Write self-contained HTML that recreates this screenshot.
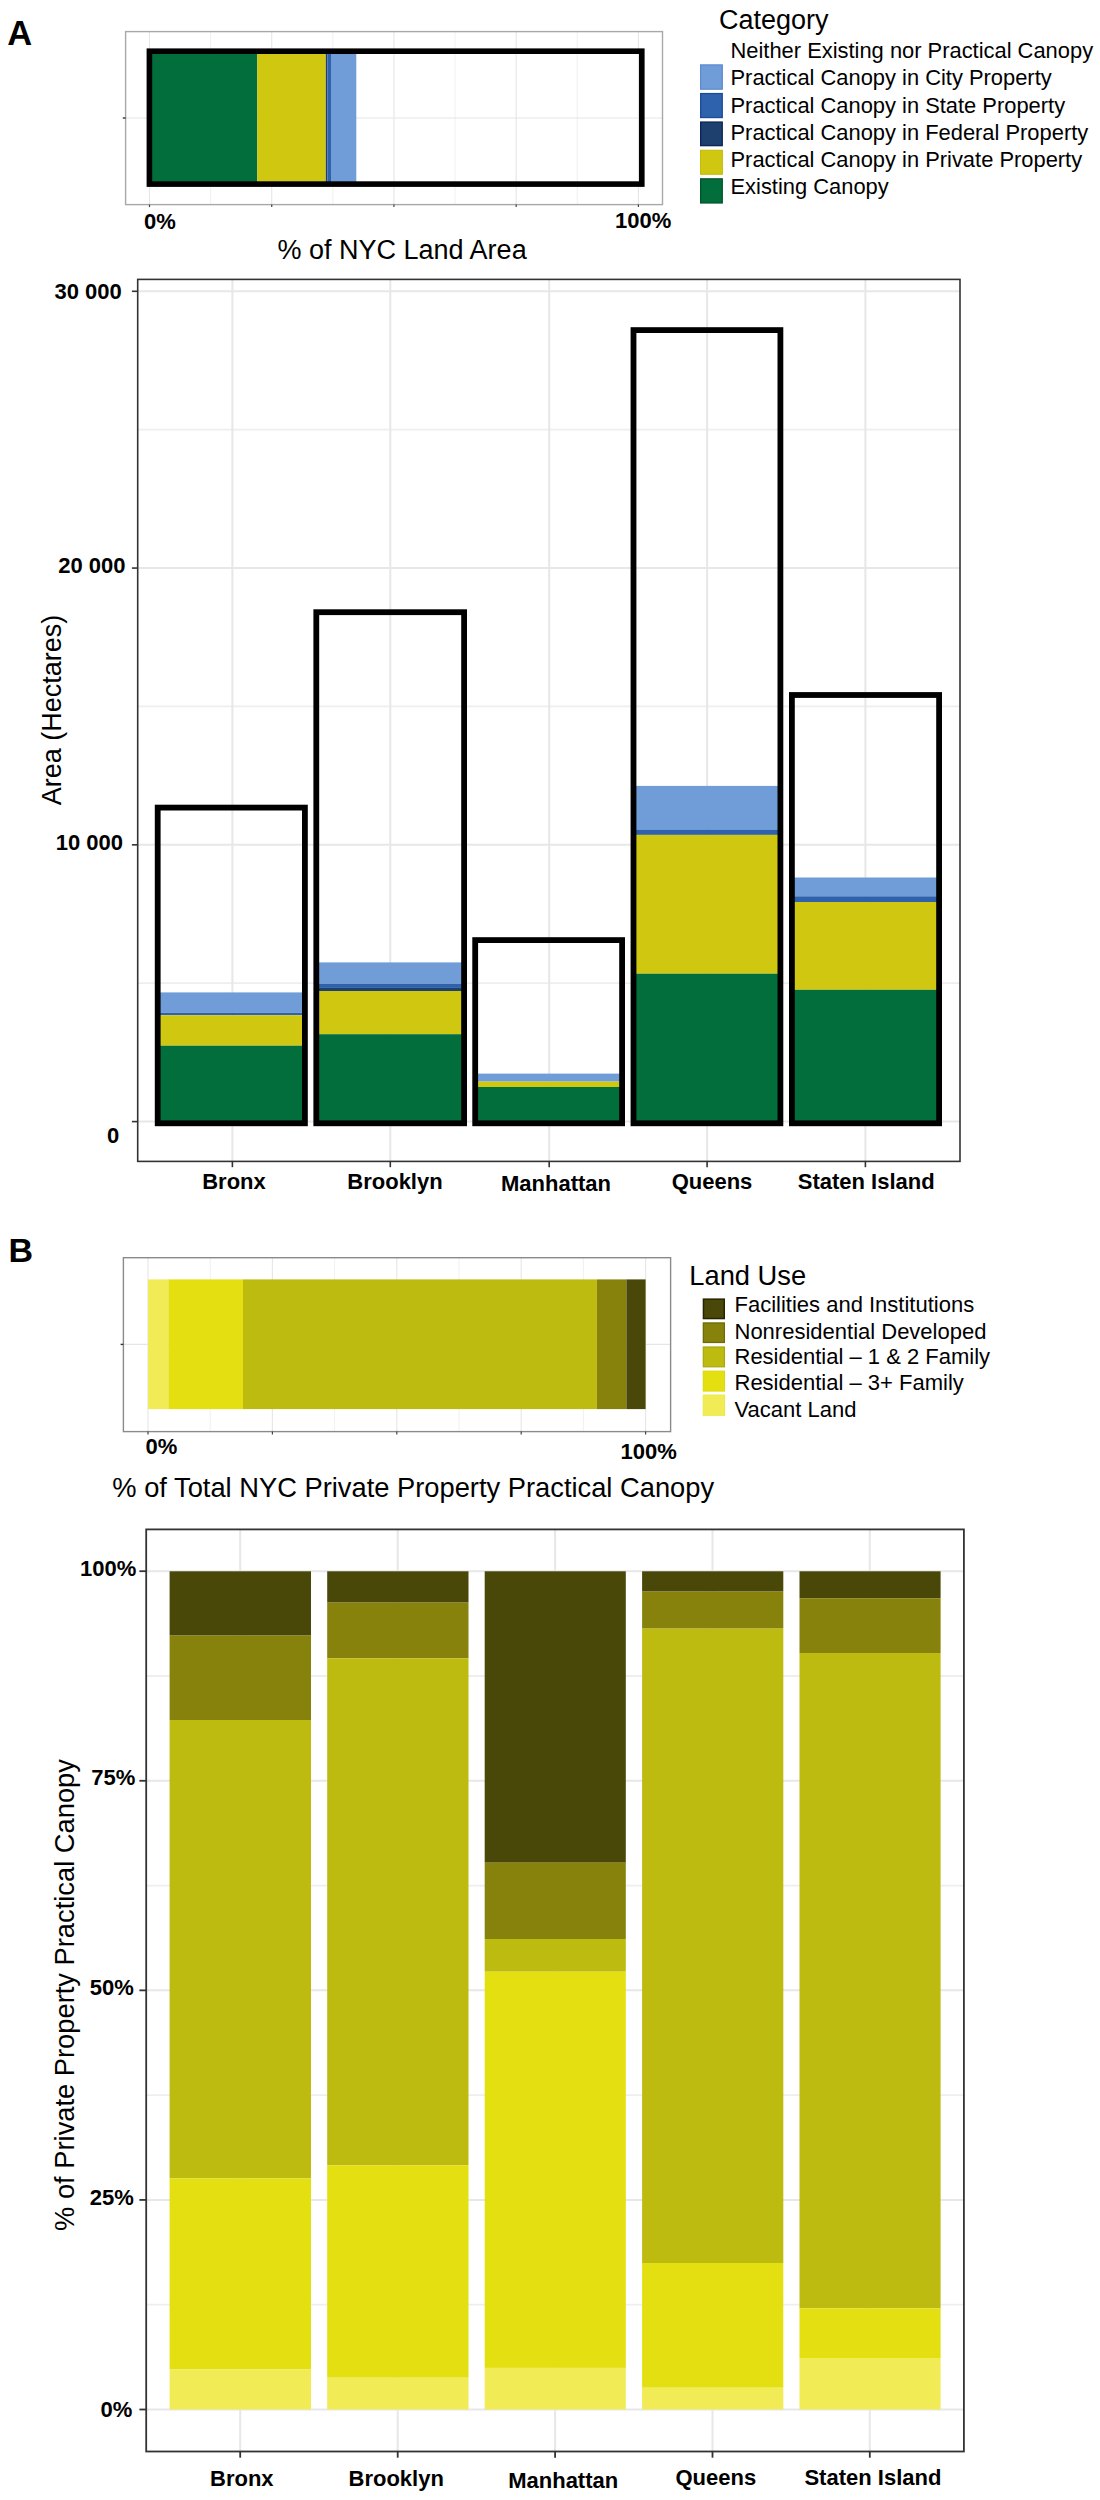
<!DOCTYPE html>
<html><head><meta charset="utf-8"><style>
html,body{margin:0;padding:0;background:#fff;}
body{width:1100px;height:2500px;overflow:hidden;}
svg{display:block;font-family:"Liberation Sans",sans-serif;}
</style></head><body>
<svg width="1100" height="2500" viewBox="0 0 1100 2500">
<rect x="0" y="0" width="1100" height="2500" fill="#fff"/>
<line x1="149.50" y1="31.60" x2="149.50" y2="204.60" stroke="#e6e6e6" stroke-width="1.1"/>
<line x1="271.73" y1="31.60" x2="271.73" y2="204.60" stroke="#e6e6e6" stroke-width="1.1"/>
<line x1="393.95" y1="31.60" x2="393.95" y2="204.60" stroke="#e6e6e6" stroke-width="1.1"/>
<line x1="516.17" y1="31.60" x2="516.17" y2="204.60" stroke="#e6e6e6" stroke-width="1.1"/>
<line x1="638.40" y1="31.60" x2="638.40" y2="204.60" stroke="#e6e6e6" stroke-width="1.1"/>
<line x1="210.61" y1="31.60" x2="210.61" y2="204.60" stroke="#e6e6e6" stroke-width="0.6"/>
<line x1="332.84" y1="31.60" x2="332.84" y2="204.60" stroke="#e6e6e6" stroke-width="0.6"/>
<line x1="455.06" y1="31.60" x2="455.06" y2="204.60" stroke="#e6e6e6" stroke-width="0.6"/>
<line x1="577.29" y1="31.60" x2="577.29" y2="204.60" stroke="#e6e6e6" stroke-width="0.6"/>
<line x1="125.60" y1="118.00" x2="662.50" y2="118.00" stroke="#e6e6e6" stroke-width="1.1"/>
<rect x="149.30" y="51.00" width="108.00" height="133.00" fill="#026e3c" />
<rect x="257.30" y="51.00" width="68.50" height="133.00" fill="#cfc710" />
<rect x="325.80" y="51.00" width="1.70" height="133.00" fill="#1e406f" />
<rect x="327.50" y="51.00" width="3.50" height="133.00" fill="#2e62ad" />
<rect x="331.00" y="51.00" width="25.30" height="133.00" fill="#709dd7" />
<rect x="149.4" y="51.2" width="492.4" height="132.9" fill="none" stroke="#000" stroke-width="5.6"/>
<rect x="125.6" y="31.6" width="536.9" height="173.0" fill="none" stroke="#a8a8a8" stroke-width="1.4"/>
<line x1="122.80" y1="118.00" x2="125.60" y2="118.00" stroke="#333" stroke-width="1.4"/>
<line x1="149.50" y1="204.60" x2="149.50" y2="207.10" stroke="#444" stroke-width="1.2"/>
<line x1="271.73" y1="204.60" x2="271.73" y2="207.10" stroke="#444" stroke-width="1.2"/>
<line x1="393.95" y1="204.60" x2="393.95" y2="207.10" stroke="#444" stroke-width="1.2"/>
<line x1="516.17" y1="204.60" x2="516.17" y2="207.10" stroke="#444" stroke-width="1.2"/>
<line x1="638.40" y1="204.60" x2="638.40" y2="207.10" stroke="#444" stroke-width="1.2"/>
<line x1="137.70" y1="1121.60" x2="960.00" y2="1121.60" stroke="#e7e7e7" stroke-width="2.0"/>
<line x1="137.70" y1="844.83" x2="960.00" y2="844.83" stroke="#e7e7e7" stroke-width="2.0"/>
<line x1="137.70" y1="568.07" x2="960.00" y2="568.07" stroke="#e7e7e7" stroke-width="2.0"/>
<line x1="137.70" y1="291.30" x2="960.00" y2="291.30" stroke="#e7e7e7" stroke-width="2.0"/>
<line x1="137.70" y1="983.22" x2="960.00" y2="983.22" stroke="#eeeeee" stroke-width="1.8"/>
<line x1="137.70" y1="706.45" x2="960.00" y2="706.45" stroke="#eeeeee" stroke-width="1.8"/>
<line x1="137.70" y1="429.68" x2="960.00" y2="429.68" stroke="#eeeeee" stroke-width="1.8"/>
<line x1="232.40" y1="279.40" x2="232.40" y2="1161.40" stroke="#e7e7e7" stroke-width="2.0"/>
<line x1="390.30" y1="279.40" x2="390.30" y2="1161.40" stroke="#e7e7e7" stroke-width="2.0"/>
<line x1="549.20" y1="279.40" x2="549.20" y2="1161.40" stroke="#e7e7e7" stroke-width="2.0"/>
<line x1="707.10" y1="279.40" x2="707.10" y2="1161.40" stroke="#e7e7e7" stroke-width="2.0"/>
<line x1="865.40" y1="279.40" x2="865.40" y2="1161.40" stroke="#e7e7e7" stroke-width="2.0"/>
<rect x="157.70" y="992.40" width="147.20" height="20.40" fill="#709dd7" />
<rect x="157.70" y="1012.80" width="147.20" height="2.40" fill="#2e62ad" />
<rect x="157.70" y="1015.20" width="147.20" height="30.50" fill="#cfc710" />
<rect x="157.70" y="1045.70" width="147.20" height="77.60" fill="#026e3c" />
<rect x="157.70" y="807.60" width="147.20" height="315.70" fill="none" stroke="#000" stroke-width="5.8"/>
<rect x="316.30" y="962.40" width="147.80" height="21.30" fill="#709dd7" />
<rect x="316.30" y="983.70" width="147.80" height="4.20" fill="#2e62ad" />
<rect x="316.30" y="987.90" width="147.80" height="3.10" fill="#1e406f" />
<rect x="316.30" y="991.00" width="147.80" height="43.20" fill="#cfc710" />
<rect x="316.30" y="1034.20" width="147.80" height="89.10" fill="#026e3c" />
<rect x="316.30" y="612.20" width="147.80" height="511.10" fill="none" stroke="#000" stroke-width="5.8"/>
<rect x="475.20" y="1073.60" width="146.90" height="8.00" fill="#709dd7" />
<rect x="475.20" y="1081.60" width="146.90" height="5.40" fill="#cfc710" />
<rect x="475.20" y="1087.00" width="146.90" height="36.30" fill="#026e3c" />
<rect x="475.20" y="940.10" width="146.90" height="183.20" fill="none" stroke="#000" stroke-width="5.8"/>
<rect x="633.50" y="785.90" width="146.90" height="43.60" fill="#709dd7" />
<rect x="633.50" y="829.50" width="146.90" height="5.40" fill="#2e62ad" />
<rect x="633.50" y="834.90" width="146.90" height="138.80" fill="#cfc710" />
<rect x="633.50" y="973.70" width="146.90" height="149.60" fill="#026e3c" />
<rect x="633.50" y="330.10" width="146.90" height="793.20" fill="none" stroke="#000" stroke-width="5.8"/>
<rect x="791.90" y="877.50" width="147.20" height="18.80" fill="#709dd7" />
<rect x="791.90" y="896.30" width="147.20" height="5.70" fill="#2e62ad" />
<rect x="791.90" y="902.00" width="147.20" height="87.80" fill="#cfc710" />
<rect x="791.90" y="989.80" width="147.20" height="133.50" fill="#026e3c" />
<rect x="791.90" y="695.00" width="147.20" height="428.30" fill="none" stroke="#000" stroke-width="5.8"/>
<rect x="137.7" y="279.4" width="822.3" height="882.0000000000001" fill="none" stroke="#333" stroke-width="1.6"/>
<line x1="131.90" y1="1121.60" x2="137.70" y2="1121.60" stroke="#333" stroke-width="1.6"/>
<line x1="131.90" y1="844.83" x2="137.70" y2="844.83" stroke="#333" stroke-width="1.6"/>
<line x1="131.90" y1="568.07" x2="137.70" y2="568.07" stroke="#333" stroke-width="1.6"/>
<line x1="131.90" y1="291.30" x2="137.70" y2="291.30" stroke="#333" stroke-width="1.6"/>
<line x1="232.40" y1="1161.40" x2="232.40" y2="1167.20" stroke="#333" stroke-width="1.6"/>
<line x1="390.30" y1="1161.40" x2="390.30" y2="1167.20" stroke="#333" stroke-width="1.6"/>
<line x1="549.20" y1="1161.40" x2="549.20" y2="1167.20" stroke="#333" stroke-width="1.6"/>
<line x1="707.10" y1="1161.40" x2="707.10" y2="1167.20" stroke="#333" stroke-width="1.6"/>
<line x1="865.40" y1="1161.40" x2="865.40" y2="1167.20" stroke="#333" stroke-width="1.6"/>
<line x1="148.00" y1="1257.70" x2="148.00" y2="1431.60" stroke="#e6e6e6" stroke-width="1.1"/>
<line x1="272.40" y1="1257.70" x2="272.40" y2="1431.60" stroke="#e6e6e6" stroke-width="1.1"/>
<line x1="396.80" y1="1257.70" x2="396.80" y2="1431.60" stroke="#e6e6e6" stroke-width="1.1"/>
<line x1="521.20" y1="1257.70" x2="521.20" y2="1431.60" stroke="#e6e6e6" stroke-width="1.1"/>
<line x1="645.60" y1="1257.70" x2="645.60" y2="1431.60" stroke="#e6e6e6" stroke-width="1.1"/>
<line x1="210.20" y1="1257.70" x2="210.20" y2="1431.60" stroke="#e6e6e6" stroke-width="0.6"/>
<line x1="334.60" y1="1257.70" x2="334.60" y2="1431.60" stroke="#e6e6e6" stroke-width="0.6"/>
<line x1="459.00" y1="1257.70" x2="459.00" y2="1431.60" stroke="#e6e6e6" stroke-width="0.6"/>
<line x1="583.40" y1="1257.70" x2="583.40" y2="1431.60" stroke="#e6e6e6" stroke-width="0.6"/>
<line x1="123.40" y1="1344.40" x2="670.60" y2="1344.40" stroke="#e6e6e6" stroke-width="1.1"/>
<rect x="148.00" y="1279.40" width="20.40" height="129.70" fill="#f1ec55" />
<rect x="168.40" y="1279.40" width="74.60" height="129.70" fill="#e3df11" />
<rect x="243.00" y="1279.40" width="353.90" height="129.70" fill="#bebb10" />
<rect x="596.90" y="1279.40" width="29.50" height="129.70" fill="#86820b" />
<rect x="626.40" y="1279.40" width="19.20" height="129.70" fill="#4a4808" />
<rect x="123.4" y="1257.7" width="547.2" height="173.89999999999986" fill="none" stroke="#8a8a8a" stroke-width="1.4"/>
<line x1="120.60" y1="1344.40" x2="123.40" y2="1344.40" stroke="#333" stroke-width="1.4"/>
<line x1="148.00" y1="1431.60" x2="148.00" y2="1434.40" stroke="#444" stroke-width="1.2"/>
<line x1="272.40" y1="1431.60" x2="272.40" y2="1434.40" stroke="#444" stroke-width="1.2"/>
<line x1="396.80" y1="1431.60" x2="396.80" y2="1434.40" stroke="#444" stroke-width="1.2"/>
<line x1="521.20" y1="1431.60" x2="521.20" y2="1434.40" stroke="#444" stroke-width="1.2"/>
<line x1="645.60" y1="1431.60" x2="645.60" y2="1434.40" stroke="#444" stroke-width="1.2"/>
<line x1="146.20" y1="2409.50" x2="963.90" y2="2409.50" stroke="#e7e7e7" stroke-width="2.0"/>
<line x1="146.20" y1="2199.93" x2="963.90" y2="2199.93" stroke="#e7e7e7" stroke-width="2.0"/>
<line x1="146.20" y1="1990.35" x2="963.90" y2="1990.35" stroke="#e7e7e7" stroke-width="2.0"/>
<line x1="146.20" y1="1780.78" x2="963.90" y2="1780.78" stroke="#e7e7e7" stroke-width="2.0"/>
<line x1="146.20" y1="1571.20" x2="963.90" y2="1571.20" stroke="#e7e7e7" stroke-width="2.0"/>
<line x1="146.20" y1="2304.71" x2="963.90" y2="2304.71" stroke="#eeeeee" stroke-width="1.8"/>
<line x1="146.20" y1="2095.14" x2="963.90" y2="2095.14" stroke="#eeeeee" stroke-width="1.8"/>
<line x1="146.20" y1="1885.56" x2="963.90" y2="1885.56" stroke="#eeeeee" stroke-width="1.8"/>
<line x1="146.20" y1="1675.99" x2="963.90" y2="1675.99" stroke="#eeeeee" stroke-width="1.8"/>
<line x1="240.20" y1="1529.40" x2="240.20" y2="2451.50" stroke="#e7e7e7" stroke-width="2.0"/>
<line x1="397.70" y1="1529.40" x2="397.70" y2="2451.50" stroke="#e7e7e7" stroke-width="2.0"/>
<line x1="555.10" y1="1529.40" x2="555.10" y2="2451.50" stroke="#e7e7e7" stroke-width="2.0"/>
<line x1="712.50" y1="1529.40" x2="712.50" y2="2451.50" stroke="#e7e7e7" stroke-width="2.0"/>
<line x1="869.80" y1="1529.40" x2="869.80" y2="2451.50" stroke="#e7e7e7" stroke-width="2.0"/>
<rect x="169.60" y="1571.30" width="141.40" height="64.30" fill="#4a4808" />
<rect x="169.60" y="1635.60" width="141.40" height="84.40" fill="#86820b" />
<rect x="169.60" y="1720.00" width="141.40" height="458.40" fill="#bebb10" />
<rect x="169.60" y="2178.40" width="141.40" height="190.80" fill="#e3df11" />
<rect x="169.60" y="2369.20" width="141.40" height="40.30" fill="#f1ec55" />
<rect x="327.20" y="1571.30" width="141.30" height="31.30" fill="#4a4808" />
<rect x="327.20" y="1602.60" width="141.30" height="55.70" fill="#86820b" />
<rect x="327.20" y="1658.30" width="141.30" height="507.00" fill="#bebb10" />
<rect x="327.20" y="2165.30" width="141.30" height="212.40" fill="#e3df11" />
<rect x="327.20" y="2377.70" width="141.30" height="31.80" fill="#f1ec55" />
<rect x="484.70" y="1571.30" width="141.10" height="291.40" fill="#4a4808" />
<rect x="484.70" y="1862.70" width="141.10" height="76.30" fill="#86820b" />
<rect x="484.70" y="1939.00" width="141.10" height="32.70" fill="#bebb10" />
<rect x="484.70" y="1971.70" width="141.10" height="396.20" fill="#e3df11" />
<rect x="484.70" y="2367.90" width="141.10" height="41.60" fill="#f1ec55" />
<rect x="642.10" y="1571.30" width="141.20" height="20.30" fill="#4a4808" />
<rect x="642.10" y="1591.60" width="141.20" height="37.00" fill="#86820b" />
<rect x="642.10" y="1628.60" width="141.20" height="634.40" fill="#bebb10" />
<rect x="642.10" y="2263.00" width="141.20" height="124.70" fill="#e3df11" />
<rect x="642.10" y="2387.70" width="141.20" height="21.80" fill="#f1ec55" />
<rect x="799.50" y="1571.30" width="141.10" height="26.90" fill="#4a4808" />
<rect x="799.50" y="1598.20" width="141.10" height="54.80" fill="#86820b" />
<rect x="799.50" y="1653.00" width="141.10" height="655.40" fill="#bebb10" />
<rect x="799.50" y="2308.40" width="141.10" height="49.60" fill="#e3df11" />
<rect x="799.50" y="2358.00" width="141.10" height="51.50" fill="#f1ec55" />
<rect x="146.2" y="1529.4" width="817.7" height="922.0999999999999" fill="none" stroke="#333" stroke-width="1.8"/>
<line x1="139.40" y1="2409.50" x2="146.20" y2="2409.50" stroke="#333" stroke-width="1.8"/>
<line x1="139.40" y1="2199.93" x2="146.20" y2="2199.93" stroke="#333" stroke-width="1.8"/>
<line x1="139.40" y1="1990.35" x2="146.20" y2="1990.35" stroke="#333" stroke-width="1.8"/>
<line x1="139.40" y1="1780.78" x2="146.20" y2="1780.78" stroke="#333" stroke-width="1.8"/>
<line x1="139.40" y1="1571.20" x2="146.20" y2="1571.20" stroke="#333" stroke-width="1.8"/>
<line x1="240.20" y1="2451.50" x2="240.20" y2="2457.70" stroke="#333" stroke-width="1.8"/>
<line x1="397.70" y1="2451.50" x2="397.70" y2="2457.70" stroke="#333" stroke-width="1.8"/>
<line x1="555.10" y1="2451.50" x2="555.10" y2="2457.70" stroke="#333" stroke-width="1.8"/>
<line x1="712.50" y1="2451.50" x2="712.50" y2="2457.70" stroke="#333" stroke-width="1.8"/>
<line x1="869.80" y1="2451.50" x2="869.80" y2="2457.70" stroke="#333" stroke-width="1.8"/>
<rect x="700.60" y="64.90" width="21.70" height="24.30" fill="#709dd7" stroke="#5c89cf" stroke-width="1.2"/>
<rect x="700.65" y="93.55" width="21.60" height="24.00" fill="#2e62ad" stroke="#1a4b9c" stroke-width="1.3"/>
<rect x="700.70" y="122.10" width="21.50" height="23.50" fill="#1e406f" stroke="#0d2559" stroke-width="1.4"/>
<rect x="700.50" y="150.20" width="21.90" height="24.10" fill="#cfc710" stroke="#c4bc08" stroke-width="1.0"/>
<rect x="700.65" y="178.85" width="21.60" height="24.10" fill="#026e3c" stroke="#01542a" stroke-width="1.3"/>
<rect x="703.45" y="1299.15" width="20.80" height="19.40" fill="#4a4808" stroke="#262500" stroke-width="1.5"/>
<rect x="703.35" y="1322.95" width="21.00" height="19.50" fill="#86820b" stroke="#6f6c05" stroke-width="1.3"/>
<rect x="703.30" y="1347.00" width="21.10" height="19.80" fill="#bebb10" stroke="#aaa70a" stroke-width="1.2"/>
<rect x="703.20" y="1371.10" width="21.30" height="20.00" fill="#e3df11" stroke="#dcd80c" stroke-width="1.0"/>
<rect x="703.20" y="1395.00" width="21.30" height="20.30" fill="#f1ec55" stroke="#ecea40" stroke-width="1.0"/>
<text x="7.30" y="44.60" font-size="34.5" font-weight="bold" text-anchor="start" >A</text>
<text x="8.60" y="1261.50" font-size="34" font-weight="bold" text-anchor="start" >B</text>
<text x="719.00" y="29.30" font-size="27.0" text-anchor="start" >Category</text>
<text x="730.50" y="57.50" font-size="21.9" text-anchor="start" >Neither Existing nor Practical Canopy</text>
<text x="730.50" y="85.10" font-size="21.9" text-anchor="start" >Practical Canopy in City Property</text>
<text x="730.50" y="112.70" font-size="21.9" text-anchor="start" >Practical Canopy in State Property</text>
<text x="730.50" y="139.60" font-size="21.9" text-anchor="start" >Practical Canopy in Federal Property</text>
<text x="730.50" y="166.50" font-size="21.9" text-anchor="start" >Practical Canopy in Private Property</text>
<text x="730.50" y="194.20" font-size="21.9" text-anchor="start" >Existing Canopy</text>
<text x="689.30" y="1284.50" font-size="27.3" text-anchor="start" >Land Use</text>
<text x="734.50" y="1311.70" font-size="22.0" text-anchor="start" >Facilities and Institutions</text>
<text x="734.50" y="1338.60" font-size="22.0" text-anchor="start" >Nonresidential Developed</text>
<text x="734.50" y="1364.10" font-size="22.0" text-anchor="start" >Residential &#8211; 1 &amp; 2 Family</text>
<text x="734.50" y="1390.30" font-size="22.0" text-anchor="start" >Residential &#8211; 3+ Family</text>
<text x="734.50" y="1416.50" font-size="22.0" text-anchor="start" >Vacant Land</text>
<text x="144.00" y="228.60" font-size="22.0" font-weight="bold" text-anchor="start" >0%</text>
<text x="615.00" y="228.30" font-size="22.0" font-weight="bold" text-anchor="start" >100%</text>
<text x="277.50" y="258.60" font-size="27.0" text-anchor="start" >% of NYC Land Area</text>
<text x="121.70" y="299.40" font-size="22.0" font-weight="bold" text-anchor="end" >30 000</text>
<text x="125.50" y="573.20" font-size="22.0" font-weight="bold" text-anchor="end" >20 000</text>
<text x="123.00" y="849.60" font-size="22.0" font-weight="bold" text-anchor="end" >10 000</text>
<text x="119.30" y="1143.20" font-size="22.0" font-weight="bold" text-anchor="end" >0</text>
<text transform="translate(60.8,710) rotate(-90)" font-size="27.0" text-anchor="middle">Area (Hectares)</text>
<text x="234.00" y="1189.20" font-size="22.0" font-weight="bold" text-anchor="middle" >Bronx</text>
<text x="395.00" y="1189.20" font-size="22.0" font-weight="bold" text-anchor="middle" >Brooklyn</text>
<text x="556.00" y="1190.60" font-size="22.0" font-weight="bold" text-anchor="middle" >Manhattan</text>
<text x="712.00" y="1189.30" font-size="22.0" font-weight="bold" text-anchor="middle" >Queens</text>
<text x="866.20" y="1189.30" font-size="22.0" font-weight="bold" text-anchor="middle" >Staten Island</text>
<text x="145.50" y="1453.60" font-size="22.0" font-weight="bold" text-anchor="start" >0%</text>
<text x="620.50" y="1458.60" font-size="22.0" font-weight="bold" text-anchor="start" >100%</text>
<text x="112.30" y="1497.40" font-size="27.3" text-anchor="start" >% of Total NYC Private Property Practical Canopy</text>
<text x="136.40" y="1576.30" font-size="22.0" font-weight="bold" text-anchor="end" >100%</text>
<text x="135.40" y="1785.10" font-size="22.0" font-weight="bold" text-anchor="end" >75%</text>
<text x="133.80" y="1995.10" font-size="22.0" font-weight="bold" text-anchor="end" >50%</text>
<text x="133.80" y="2204.80" font-size="22.0" font-weight="bold" text-anchor="end" >25%</text>
<text x="132.30" y="2416.80" font-size="22.0" font-weight="bold" text-anchor="end" >0%</text>
<text transform="translate(73.7,1995) rotate(-90)" font-size="27.3" text-anchor="middle">% of Private Property Practical Canopy</text>
<text x="241.80" y="2485.50" font-size="22.0" font-weight="bold" text-anchor="middle" >Bronx</text>
<text x="396.20" y="2485.50" font-size="22.0" font-weight="bold" text-anchor="middle" >Brooklyn</text>
<text x="563.20" y="2488.10" font-size="22.0" font-weight="bold" text-anchor="middle" >Manhattan</text>
<text x="715.80" y="2485.20" font-size="22.0" font-weight="bold" text-anchor="middle" >Queens</text>
<text x="872.90" y="2485.20" font-size="22.0" font-weight="bold" text-anchor="middle" >Staten Island</text>
</svg>
</body></html>
